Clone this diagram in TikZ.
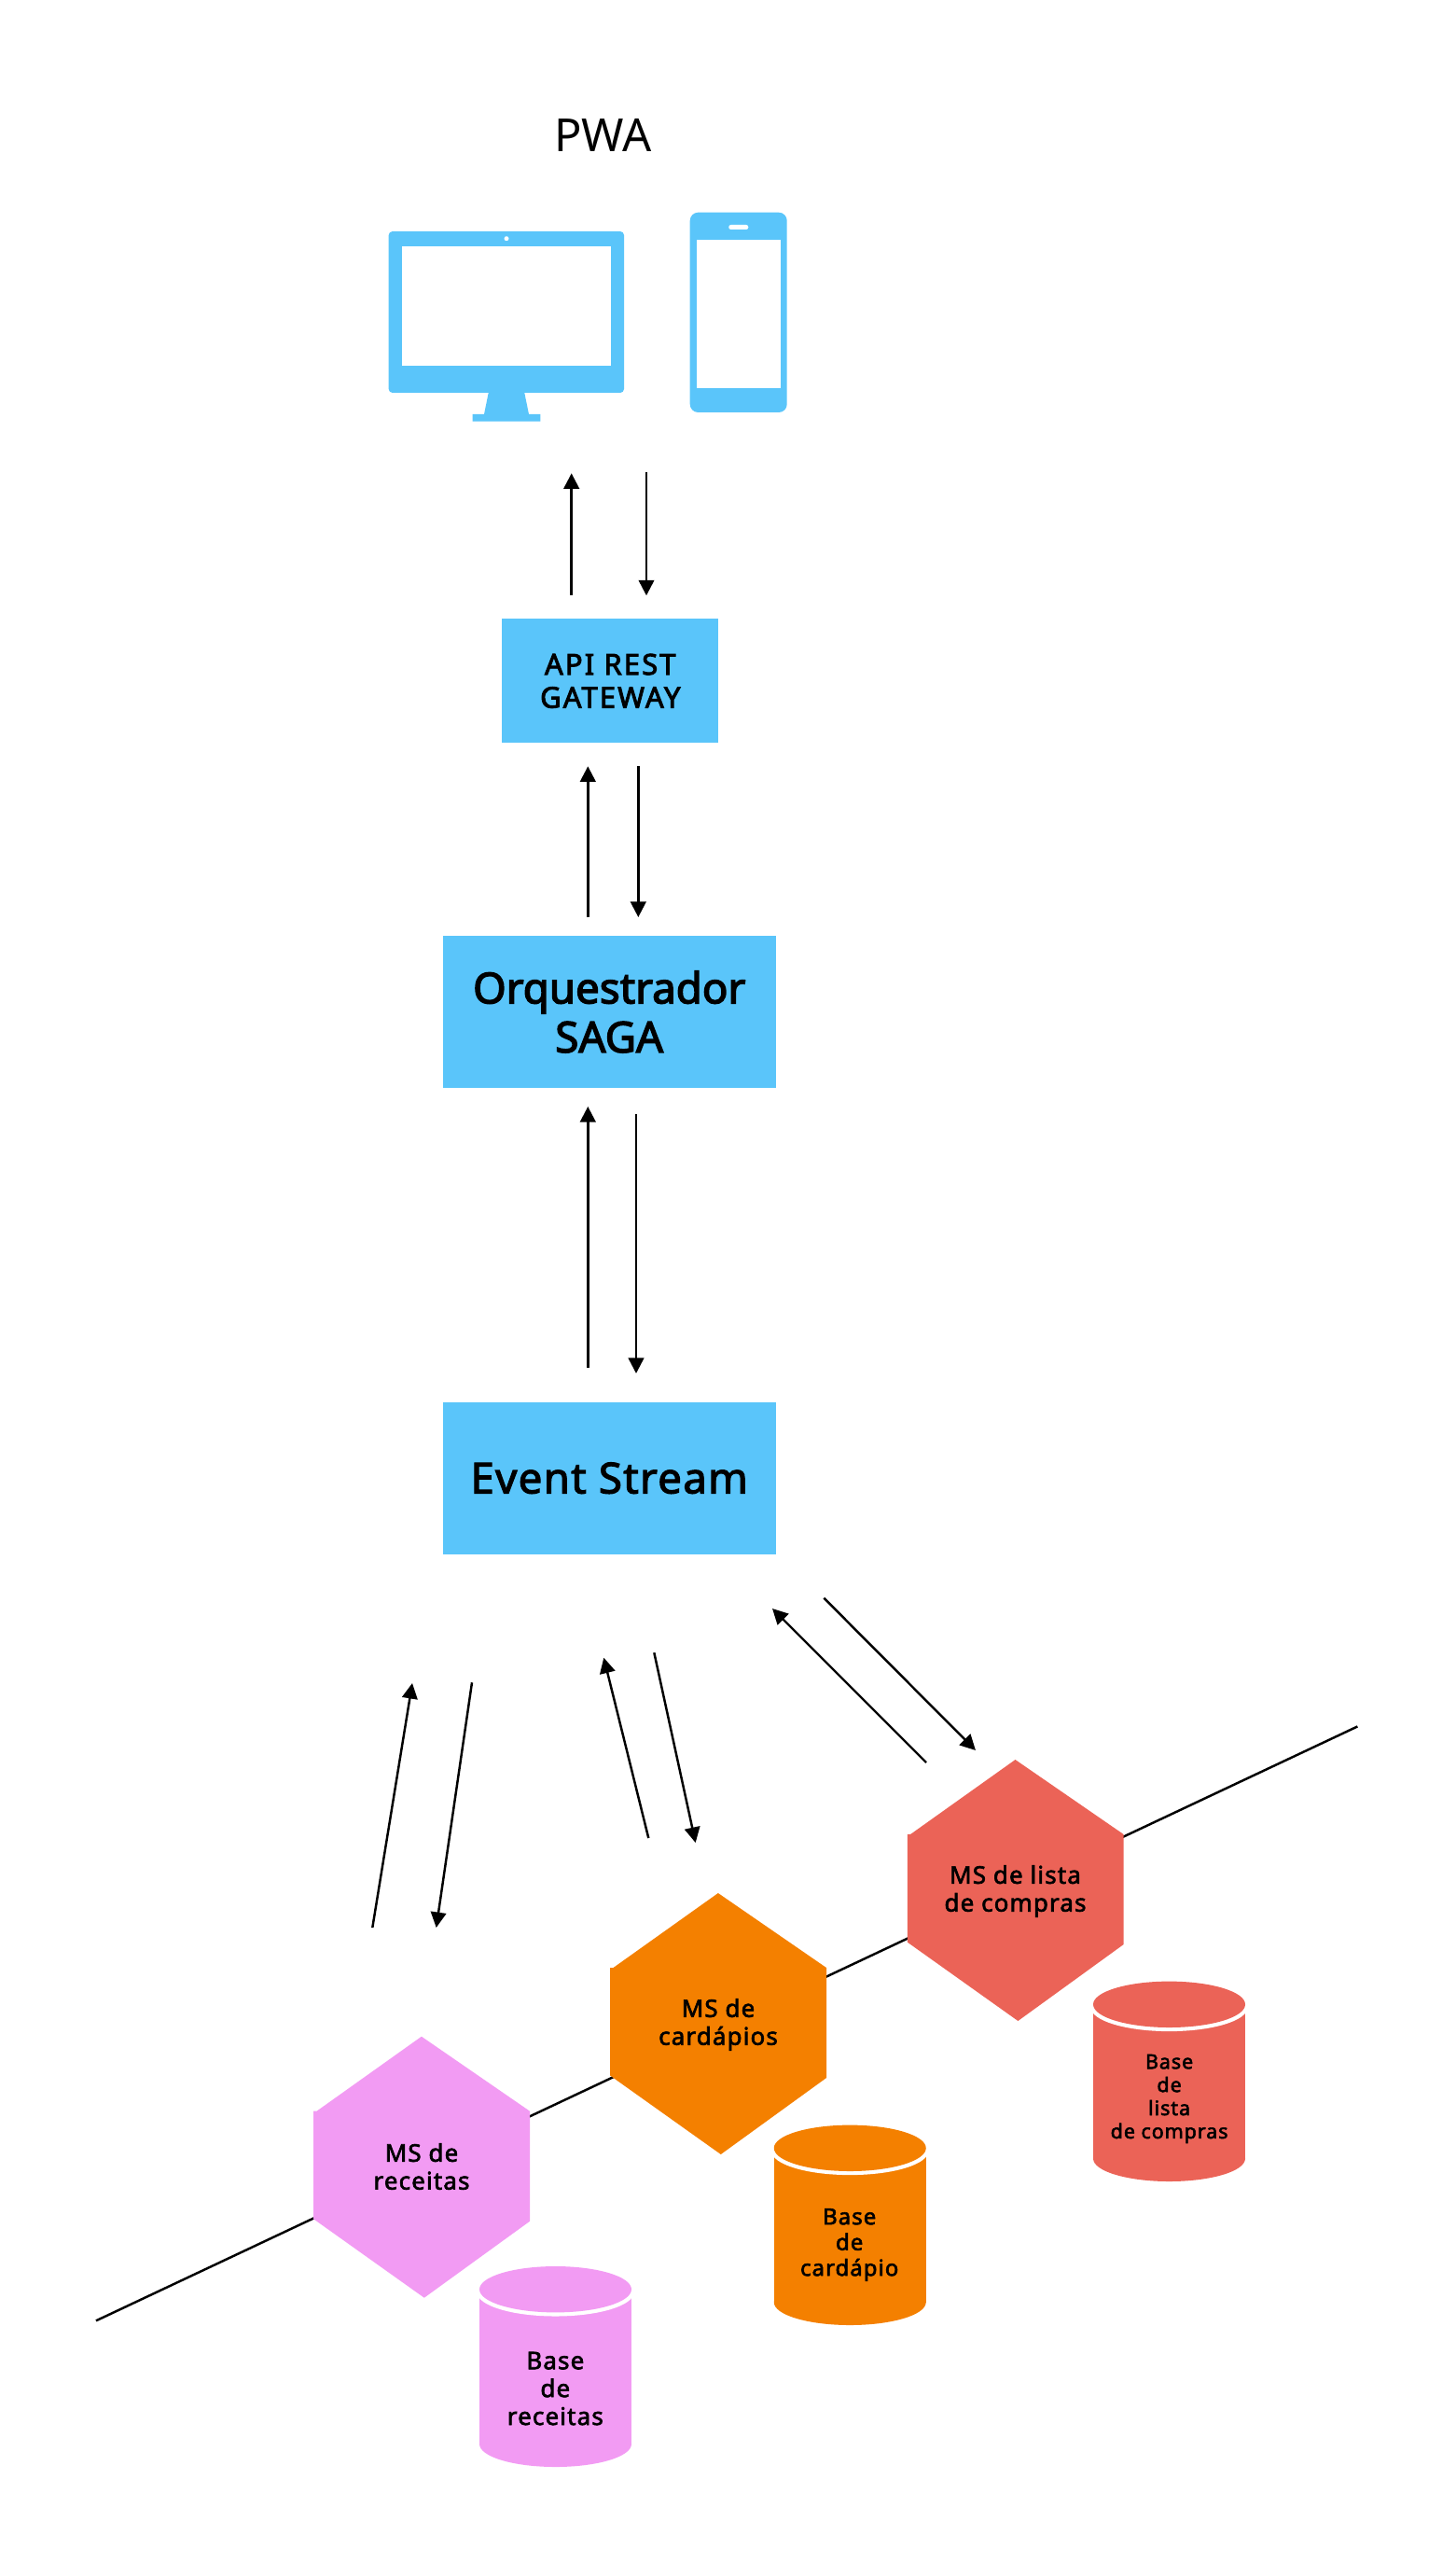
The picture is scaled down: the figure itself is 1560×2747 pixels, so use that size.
\documentclass[tikz,border=0pt]{standalone}
\usepackage{fontspec}
\usetikzlibrary{arrows.meta}
\setmainfont{Noto Sans}
\newfontfamily\medfont{Noto Sans}[FakeBold=2.5,LetterSpace=4.5]
\newfontfamily\apifont{Noto Sans}[FakeBold=3,LetterSpace=7]
\newfontfamily\bigfont{Noto Sans}[FakeBold=3]
\newfontfamily\evfont{Noto Sans}[FakeBold=2.5,LetterSpace=2.8]
\definecolor{skyb}{HTML}{5AC5FA}
\definecolor{pinkm}{HTML}{F29BF3}
\definecolor{orangem}{HTML}{F48000}
\definecolor{redm}{HTML}{EB6357}
\newcommand{\dbcyl}[4]{%
  \fill[#4] ({#1-81.5},{#2+24.7}) rectangle ({#1+81.5},{#3-24.5});
  \fill[#4] (#1,{#3-24.5}) ellipse [x radius=81.5, y radius=24.5];
  \fill[white] (#1,{#2+28}) ellipse [x radius=84, y radius=25.5];
  \fill[#4] (#1,{#2+24.7}) ellipse [x radius=81.5, y radius=24.7];
}
\newcommand{\hexfig}[3]{%
  \fill[#3] ({#1+336.2},{#2+2262.7}) -- ({#1+339.5},{#2+2262.7}) -- ({#1+451.9},{#2+2182.7}) -- ({#1+568},{#2+2262.7}) -- ({#1+568},{#2+2380.7}) -- ({#1+454.8},{#2+2462.7}) -- ({#1+336.2},{#2+2378.3}) -- cycle;
}
\tikzset{
  x=0.02cm, y=-0.02cm,
  conn/.style={line width=1.4pt, black},
  arr/.style={conn, -{Triangle[length=9.4pt,width=9.4pt]}},
  boxn/.style={fill=skyb, inner sep=0pt, align=center, text=black},
  lbl/.style={inner sep=0pt, align=center, text=black, anchor=center},
  tsmall/.style={lbl, font=\medfont\fontsize{14.74}{17}\selectfont},
  tmid/.style={lbl, font=\medfont\fontsize{13.6}{15.65}\selectfont},
  ttiny/.style={lbl, font=\medfont\fontsize{12.2}{14.17}\selectfont},
  tapi/.style={font=\apifont\fontsize{17.6}{20.2}\selectfont},
  tbig/.style={font=\bigfont\fontsize{26}{29.9}\selectfont},
  tev/.style={font=\evfont\fontsize{26}{29.9}\selectfont},
}
\begin{document}
\begin{tikzpicture}
\useasboundingbox (0,0) rectangle (1560,2747);

\node[lbl, font=\fontsize{27.8}{30}\selectfont] (pwa) at (646.5,145) {PWA};

% monitor
\fill[skyb, rounded corners=2.3pt] (416.7,248) rectangle (669,421);
\fill[white] (431,264.3) rectangle (654.7,391.7);
\fill[white] (543,255.7) circle [radius=2.5];
\fill[skyb] (523.7,421) -- (562.3,421) -- (567,444) -- (579.3,444) -- (579.3,451.7) -- (506.7,451.7) -- (506.7,444) -- (519,444) -- cycle;
% phone
\fill[skyb, rounded corners=5pt] (739.7,227.7) rectangle (843.7,442);
\fill[white] (746.7,256.7) rectangle (836.7,416);
\fill[white, rounded corners=1.3pt] (781.3,241) rectangle (802.3,246);

% boxes
\node[boxn, tapi, minimum width=4.64cm, minimum height=2.66cm] (api) at (654.3,729.8) {API REST\\GATEWAY};
\node[boxn, tbig, minimum width=7.14cm, minimum height=3.27cm] (orq) at (653.2,1084.5) {Orquestrador\\SAGA};
\node[boxn, tev, minimum width=7.14cm, minimum height=3.26cm] (evt) at (653.2,1584.2) {Event Stream};

% arrow end points
\coordinate (a1s) at (612.7,637.7); \coordinate (a1e) at (612.7,507.3);
\coordinate (a2s) at (693,506);     \coordinate (a2e) at (693,638.3);
\coordinate (a3s) at (630.3,983.3); \coordinate (a3e) at (630.3,821.3);
\coordinate (a4s) at (684.3,821);   \coordinate (a4e) at (684.3,983);
\coordinate (a5s) at (630.3,1465.7);\coordinate (a5e) at (630.3,1186);
\coordinate (a6s) at (682,1194.3);  \coordinate (a6e) at (682,1472);
\coordinate (a7s) at (399.3,2066);  \coordinate (a7e) at (442,1804);
\coordinate (a8s) at (506,1803.3);  \coordinate (a8e) at (467.7,2066);
\coordinate (a9s) at (695.3,1970);  \coordinate (a9e) at (647.3,1776.7);
\coordinate (a10s) at (701.3,1771.3); \coordinate (a10e) at (745.7,1975);
\coordinate (a11s) at (993,1889);   \coordinate (a11e) at (828,1724);
\coordinate (a12s) at (883.3,1712.7); \coordinate (a12e) at (1046,1876);
\foreach \i in {1,...,12} \draw[arr] (a\i s) -- (a\i e);

% line behind the services
\coordinate (lineL) at (103,2487.3);
\coordinate (lineR) at (1455.4,1850.4);
\draw[conn] (lineL) -- (lineR);

% services
\hexfig{0}{0}{pinkm}
\hexfig{318}{-153.7}{orangem}
\hexfig{636.6}{-296.7}{redm}
\node[tsmall] (mr) at (452,2322) {MS de\\receitas};
\node[tsmall] (mc) at (770,2170) {MS de\\cardápios};
\node[tsmall] (ml) at (1088.5,2027) {MS de lista\\de compras};

% databases
\dbcyl{595.5}{2429}{2644}{pinkm}
\dbcyl{911.25}{2277.6}{2492}{orangem}
\dbcyl{1253.5}{2123.6}{2338}{redm}
\node[tsmall] (br) at (595.3,2560) {Base\\de\\receitas};
\node[tmid] (bc) at (910.7,2406) {Base\\de\\cardápio};
\node[ttiny] (bl) at (1253.6,2249.5) {Base\\de\\lista\\de compras};
\end{tikzpicture}
\end{document}
